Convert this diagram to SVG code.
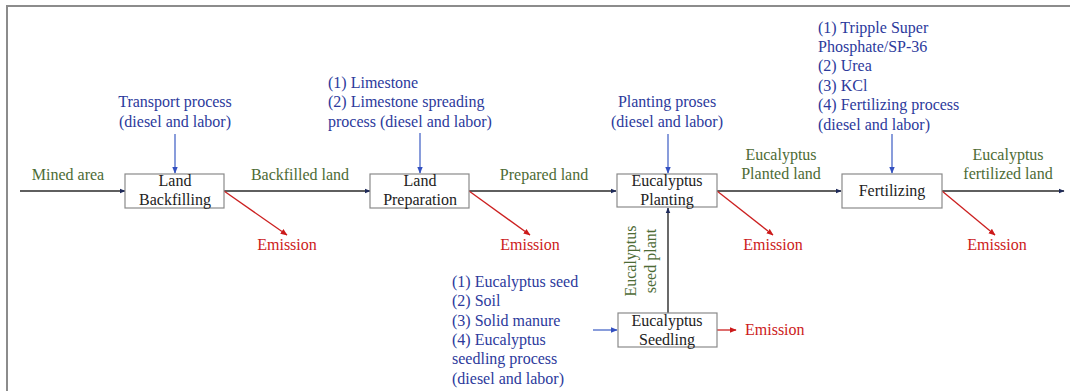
<svg xmlns="http://www.w3.org/2000/svg" width="1070" height="391" viewBox="0 0 1070 391">
  <defs>
    <marker id="ah-dark" viewBox="0 0 10 10" refX="9" refY="5" markerWidth="6" markerHeight="6" orient="auto" markerUnits="userSpaceOnUse">
      <path d="M0,1 L10,5 L0,9 z" fill="#1e2a5a"/>
    </marker>
    <marker id="ah-blue" viewBox="0 0 10 10" refX="9" refY="5" markerWidth="7" markerHeight="7" orient="auto" markerUnits="userSpaceOnUse">
      <path d="M0,1 L10,5 L0,9 z" fill="#3350c0"/>
    </marker>
    <marker id="ah-red" viewBox="0 0 10 10" refX="9" refY="5" markerWidth="7" markerHeight="7" orient="auto" markerUnits="userSpaceOnUse">
      <path d="M0,1 L10,5 L0,9 z" fill="#cc1a1a"/>
    </marker>
  </defs>

  <!-- frame -->
  <path d="M7,391 L7,6 L1070,6" fill="none" stroke="#8c8c8c" stroke-width="2"/>

  <!-- connectors -->
  <g id="connectors" fill="none">
    <g stroke="#2a2a2a" stroke-width="1.4" marker-end="url(#ah-dark)">
      <path d="M20,191 L125,191"/>
      <path d="M224,191 L370,191"/>
      <path d="M469,191 L616,191"/>
      <path d="M717,191 L841,191"/>
      <path d="M942,191 L1064,191"/>
      <path d="M668,313 L668,208"/>
    </g>
    <g stroke="#4a68c8" stroke-width="1.3" marker-end="url(#ah-blue)">
      <path d="M175,134 L175,173"/>
      <path d="M420,133 L420,173"/>
      <path d="M668,134 L668,173"/>
      <path d="M892,134 L892,173"/>
      <path d="M593,330 L617,330"/>
    </g>
    <g stroke="#cc2020" stroke-width="1.3" marker-end="url(#ah-red)">
      <path d="M224,191 L287,235"/>
      <path d="M469,191 L530,235"/>
      <path d="M717,191 L773,235"/>
      <path d="M942,191 L995,235"/>
      <path d="M717,330 L736,330"/>
    </g>
  </g>

  <!-- flow labels -->
  <g id="flow-labels" fill="#4d6b35" text-anchor="middle">
    <text x="68" y="180" style="font-family:'Liberation Serif',serif;font-size:16px">Mined area</text>
    <text x="300" y="180" style="font-family:'Liberation Serif',serif;font-size:16px">Backfilled land</text>
    <text x="544" y="180" style="font-family:'Liberation Serif',serif;font-size:16px">Prepared land</text>
    <text x="781" y="160" style="font-family:'Liberation Serif',serif;font-size:16px">Eucalyptus</text>
    <text x="781" y="179" style="font-family:'Liberation Serif',serif;font-size:16px">Planted land</text>
    <text x="1008" y="160" style="font-family:'Liberation Serif',serif;font-size:16px">Eucalyptus</text>
    <text x="1008" y="179" style="font-family:'Liberation Serif',serif;font-size:16px">fertilized land</text>
    <text transform="translate(636,261) rotate(-90)" style="font-family:'Liberation Serif',serif;font-size:16px">Eucalyptus</text>
    <text transform="translate(656,261) rotate(-90)" style="font-family:'Liberation Serif',serif;font-size:16px">seed plant</text>
  </g>

  <!-- Land Backfilling -->
  <g id="land-backfilling">
    <rect x="125" y="174" width="99" height="34" fill="#ffffff" stroke="#8a8a8a" stroke-width="1.2"/>
    <g fill="#222222" text-anchor="middle">
      <text x="175" y="186" style="font-family:'Liberation Serif',serif;font-size:16px">Land</text>
      <text x="175" y="205" style="font-family:'Liberation Serif',serif;font-size:16px">Backfilling</text>
    </g>
    <g fill="#2c3a9c" text-anchor="middle">
      <text x="175" y="107" style="font-family:'Liberation Serif',serif;font-size:16px">Transport process</text>
      <text x="175" y="127" style="font-family:'Liberation Serif',serif;font-size:16px">(diesel and labor)</text>
    </g>
    <text x="287" y="250" fill="#cc1a1a" text-anchor="middle" style="font-family:'Liberation Serif',serif;font-size:16px">Emission</text>
  </g>

  <!-- Land Preparation -->
  <g id="land-preparation">
    <rect x="370" y="174" width="99" height="34" fill="#ffffff" stroke="#8a8a8a" stroke-width="1.2"/>
    <g fill="#222222" text-anchor="middle">
      <text x="420" y="186" style="font-family:'Liberation Serif',serif;font-size:16px">Land</text>
      <text x="420" y="205" style="font-family:'Liberation Serif',serif;font-size:16px">Preparation</text>
    </g>
    <g fill="#2c3a9c">
      <text x="328" y="88" style="font-family:'Liberation Serif',serif;font-size:16px">(1) Limestone</text>
      <text x="328" y="107" style="font-family:'Liberation Serif',serif;font-size:16px">(2) Limestone spreading</text>
      <text x="328" y="127" style="font-family:'Liberation Serif',serif;font-size:16px">process (diesel and labor)</text>
    </g>
    <text x="530" y="250" fill="#cc1a1a" text-anchor="middle" style="font-family:'Liberation Serif',serif;font-size:16px">Emission</text>
  </g>

  <!-- Eucalyptus Planting -->
  <g id="eucalyptus-planting">
    <rect x="617" y="174" width="100" height="33" fill="#ffffff" stroke="#8a8a8a" stroke-width="1.2"/>
    <g fill="#222222" text-anchor="middle">
      <text x="667" y="186" style="font-family:'Liberation Serif',serif;font-size:16px">Eucalyptus</text>
      <text x="667" y="205" style="font-family:'Liberation Serif',serif;font-size:16px">Planting</text>
    </g>
    <g fill="#2c3a9c" text-anchor="middle">
      <text x="667" y="107" style="font-family:'Liberation Serif',serif;font-size:16px">Planting proses</text>
      <text x="667" y="127" style="font-family:'Liberation Serif',serif;font-size:16px">(diesel and labor)</text>
    </g>
    <text x="773" y="250" fill="#cc1a1a" text-anchor="middle" style="font-family:'Liberation Serif',serif;font-size:16px">Emission</text>
  </g>

  <!-- Fertilizing -->
  <g id="fertilizing">
    <rect x="842" y="174" width="100" height="34" fill="#ffffff" stroke="#8a8a8a" stroke-width="1.2"/>
    <text x="892" y="196" fill="#222222" text-anchor="middle" style="font-family:'Liberation Serif',serif;font-size:16px">Fertilizing</text>
    <g fill="#2c3a9c">
      <text x="818" y="33" style="font-family:'Liberation Serif',serif;font-size:16px">(1) Tripple Super</text>
      <text x="818" y="52" style="font-family:'Liberation Serif',serif;font-size:16px">Phosphate/SP-36</text>
      <text x="818" y="71" style="font-family:'Liberation Serif',serif;font-size:16px">(2) Urea</text>
      <text x="818" y="91" style="font-family:'Liberation Serif',serif;font-size:16px">(3) KCl</text>
      <text x="818" y="110" style="font-family:'Liberation Serif',serif;font-size:16px">(4) Fertilizing process</text>
      <text x="818" y="130" style="font-family:'Liberation Serif',serif;font-size:16px">(diesel and labor)</text>
    </g>
    <text x="997" y="250" fill="#cc1a1a" text-anchor="middle" style="font-family:'Liberation Serif',serif;font-size:16px">Emission</text>
  </g>

  <!-- Eucalyptus Seedling -->
  <g id="eucalyptus-seedling">
    <rect x="618" y="313" width="99" height="34" fill="#ffffff" stroke="#8a8a8a" stroke-width="1.2"/>
    <g fill="#222222" text-anchor="middle">
      <text x="667" y="326" style="font-family:'Liberation Serif',serif;font-size:16px">Eucalyptus</text>
      <text x="667" y="345" style="font-family:'Liberation Serif',serif;font-size:16px">Seedling</text>
    </g>
    <g fill="#2c3a9c">
      <text x="452" y="287" style="font-family:'Liberation Serif',serif;font-size:16px">(1) Eucalyptus seed</text>
      <text x="452" y="306" style="font-family:'Liberation Serif',serif;font-size:16px">(2) Soil</text>
      <text x="452" y="326" style="font-family:'Liberation Serif',serif;font-size:16px">(3) Solid manure</text>
      <text x="452" y="345" style="font-family:'Liberation Serif',serif;font-size:16px">(4) Eucalyptus</text>
      <text x="452" y="364" style="font-family:'Liberation Serif',serif;font-size:16px">seedling process</text>
      <text x="452" y="384" style="font-family:'Liberation Serif',serif;font-size:16px">(diesel and labor)</text>
    </g>
    <text x="745" y="335" fill="#cc1a1a" style="font-family:'Liberation Serif',serif;font-size:16px">Emission</text>
  </g>
</svg>
